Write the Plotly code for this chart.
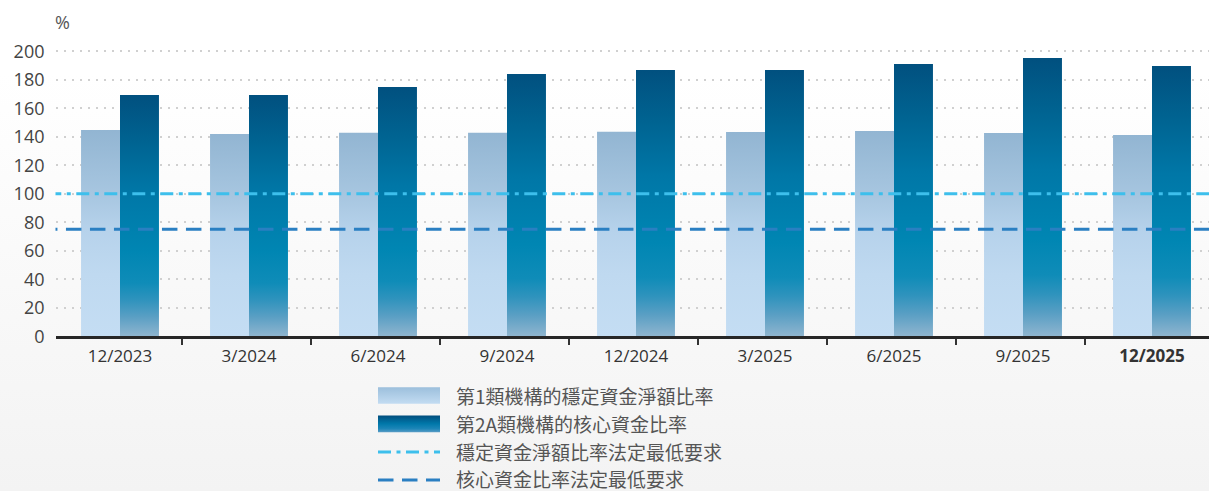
import plotly.graph_objects as go

# ---------------- data ----------------
categories = ["12/2023", "3/2024", "6/2024", "9/2024", "12/2024",
              "3/2025", "6/2025", "9/2025", "12/2025"]
nsfr_cat1 = [144.7, 141.9, 142.8, 142.8, 143.5, 143.3, 144.0, 142.6, 141.2]
core_funding_2a = [169.3, 169.3, 174.9, 184.0, 186.8, 186.8, 191.0, 195.2, 189.6]
nsfr_min = 100
cfr_min = 75
y_ticks = [0, 20, 40, 60, 80, 100, 120, 140, 160, 180, 200]
legend_labels = ["第1類機構的穩定資金淨額比率", "第2A類機構的核心資金比率",
                 "穩定資金淨額比率法定最低要求", "核心資金比率法定最低要求"]

# ---------------- styling ----------------
W, H = 1209, 491
NUM_FONT = "Open Sans, Noto Sans, sans-serif"
CJK_FONT = "Noto Sans CJK TC, Noto Sans, sans-serif"
LIGHT_CS = [[0, "#c4ddf3"], [0.3, "#bfd9f0"], [0.52, "#b6d2eb"],
            [0.69, "#a7c6e0"], [1, "#92b5d2"]]
DARK_CS = [[0, "#8fb5cf"], [0.08, "#5a9fc4"], [0.15, "#2f93bd"],
           [0.22, "#0f8cb8"], [0.35, "#0086b3"], [0.6, "#0077a7"],
           [0.8, "#006492"], [1, "#01507f"]]
DASHDOT = "13px,5.5px,4px,5.5px"
DASH = "15.5px,8.5px"
CYAN = "#3dbfec"
BLUE = "#2a7fc2"
BAR_W = 0.302

fig = go.Figure()

# background gradient (pixel-coordinate helper subplot)
fig.add_trace(go.Scatter(
    x=[0, W, W, 0, 0], y=[0, 0, H, H, 0], mode="lines", line=dict(width=0),
    fill="toself",
    fillgradient=dict(type="vertical", start=0, stop=H,
                      colorscale=[[0, "#ffffff"], [0.15, "#ffffff"], [1, "#f3f3f3"]]),
    hoverinfo="skip", showlegend=False, xaxis="x", yaxis="y"))

# bars (gradient-filled rectangles on the main axes)
for i, v in enumerate(nsfr_cat1):
    fig.add_trace(go.Scatter(
        x=[i - BAR_W, i, i, i - BAR_W, i - BAR_W], y=[0, 0, v, v, 0],
        mode="lines", line=dict(width=0), fill="toself",
        fillgradient=dict(type="vertical", start=0, stop=v, colorscale=LIGHT_CS),
        hoverinfo="skip", showlegend=False, xaxis="x2", yaxis="y2"))
for i, v in enumerate(core_funding_2a):
    fig.add_trace(go.Scatter(
        x=[i, i + BAR_W, i + BAR_W, i, i], y=[0, 0, v, v, 0],
        mode="lines", line=dict(width=0), fill="toself",
        fillgradient=dict(type="vertical", start=0, stop=v, colorscale=DARK_CS),
        hoverinfo="skip", showlegend=False, xaxis="x2", yaxis="y2"))

n = len(categories)
# minimum requirement lines
fig.add_trace(go.Scatter(x=[-0.556, n], y=[nsfr_min, nsfr_min], mode="lines",
                         line=dict(color=CYAN, width=3, dash=DASHDOT),
                         hoverinfo="skip", showlegend=False, xaxis="x2", yaxis="y2"))
fig.add_trace(go.Scatter(x=[-0.605, n], y=[cfr_min, cfr_min], mode="lines",
                         line=dict(color=BLUE, width=3, dash=DASH),
                         hoverinfo="skip", showlegend=False, xaxis="x2", yaxis="y2"))

# ---------------- manual legend ----------------
LX0, LX1, TX = 378, 440, 455
rows = [395.5, 423.8, 451.9, 480.0]
text_rows = [395.5, 423.8, 451.3, 478.2]
SW_H = 16.7
fig.add_trace(go.Scatter(
    x=[LX0, LX1, LX1, LX0, LX0],
    y=[rows[0] - SW_H / 2] * 2 + [rows[0] + SW_H / 2] * 2 + [rows[0] - SW_H / 2],
    mode="lines", line=dict(width=0), fill="toself",
    fillgradient=dict(type="vertical", start=rows[0] - SW_H / 2, stop=rows[0] + SW_H / 2,
                      colorscale=[[0, "#9cbfdc"], [1, "#c3dcf2"]]),
    hoverinfo="skip", showlegend=False, xaxis="x", yaxis="y"))
fig.add_trace(go.Scatter(
    x=[LX0, LX1, LX1, LX0, LX0],
    y=[rows[1] - SW_H / 2] * 2 + [rows[1] + SW_H / 2] * 2 + [rows[1] - SW_H / 2],
    mode="lines", line=dict(width=0), fill="toself",
    fillgradient=dict(type="vertical", start=rows[1] - SW_H / 2, stop=rows[1] + SW_H / 2,
                      colorscale=[[0, "#014d7d"], [0.5, "#0078aa"], [0.8, "#1d86b8"],
                                  [1, "#5a9cc6"]]),
    hoverinfo="skip", showlegend=False, xaxis="x", yaxis="y"))
fig.add_trace(go.Scatter(x=[LX0, LX1], y=[rows[2], rows[2]], mode="lines",
                         line=dict(color=CYAN, width=3, dash=DASHDOT),
                         hoverinfo="skip", showlegend=False, xaxis="x", yaxis="y"))
fig.add_trace(go.Scatter(x=[LX0, LX1], y=[rows[3], rows[3]], mode="lines",
                         line=dict(color=BLUE, width=3, dash=DASH),
                         hoverinfo="skip", showlegend=False, xaxis="x", yaxis="y"))

annotations = []
for lab, ry in zip(legend_labels, text_rows):
    annotations.append(dict(x=TX, y=ry, xref="x", yref="y", text=lab, showarrow=False,
                            xanchor="left", yanchor="middle", borderpad=0,
                            font=dict(family=CJK_FONT, size=19, color="#555555")))
annotations.append(dict(x=62.5, y=22, xref="x", yref="y", text="%", showarrow=False,
                        xanchor="center", yanchor="middle",
                        font=dict(family=NUM_FONT, size=18, color="#555555")))

# ---------------- axes ----------------
px0 = 55.5
x_left = -0.5
x_right = x_left + (W - px0) / 129.0
y0_pix, px_per_unit = 336.2, 1.425
y_top = 210
dom_y0 = (H - y0_pix) / H
dom_y1 = (H - (y0_pix - px_per_unit * y_top)) / H

ticktext = categories[:-1] + ["<b>" + categories[-1] + "</b>"]

fig.update_layout(
    width=W, height=H, autosize=False,
    margin=dict(l=0, r=0, t=0, b=0, pad=0, autoexpand=False),
    paper_bgcolor="#ffffff",
    plot_bgcolor="rgba(0,0,0,0)",
    showlegend=False,
    annotations=annotations,
    xaxis=dict(domain=[0, 1], range=[0, W], visible=False, fixedrange=True,
               automargin=False),
    yaxis=dict(domain=[0, 1], range=[H, 0], visible=False, fixedrange=True,
               automargin=False),
    xaxis2=dict(domain=[px0 / W, 1], range=[x_left, x_right], anchor="y2",
                automargin=False,
                tickmode="array", tickvals=list(range(n)), ticktext=ticktext,
                ticks="", showgrid=False, zeroline=False,
                showline=True, linecolor="#262626", linewidth=3,
                tickfont=dict(family=NUM_FONT, size=17, color="#333333"),
                ticklabelstandoff=2,
                minor=dict(tickmode="array", tickvals=[i + 0.48 for i in range(n - 1)],
                           ticks="outside", ticklen=6, tickwidth=2, tickcolor="#333333",
                           showgrid=False),
                fixedrange=True),
    yaxis2=dict(domain=[dom_y0, dom_y1], range=[0, y_top], anchor="x2",
                automargin=False,
                tickmode="array", tickvals=y_ticks,
                ticks="", showline=False, zeroline=False,
                showgrid=True, gridcolor="#d0d0d0", gridwidth=2, griddash="2px,6px",
                tickfont=dict(family=NUM_FONT, size=18, color="#444444"),
                ticklabelstandoff=10,
                fixedrange=True),
)

fig.write_html("out.html")
